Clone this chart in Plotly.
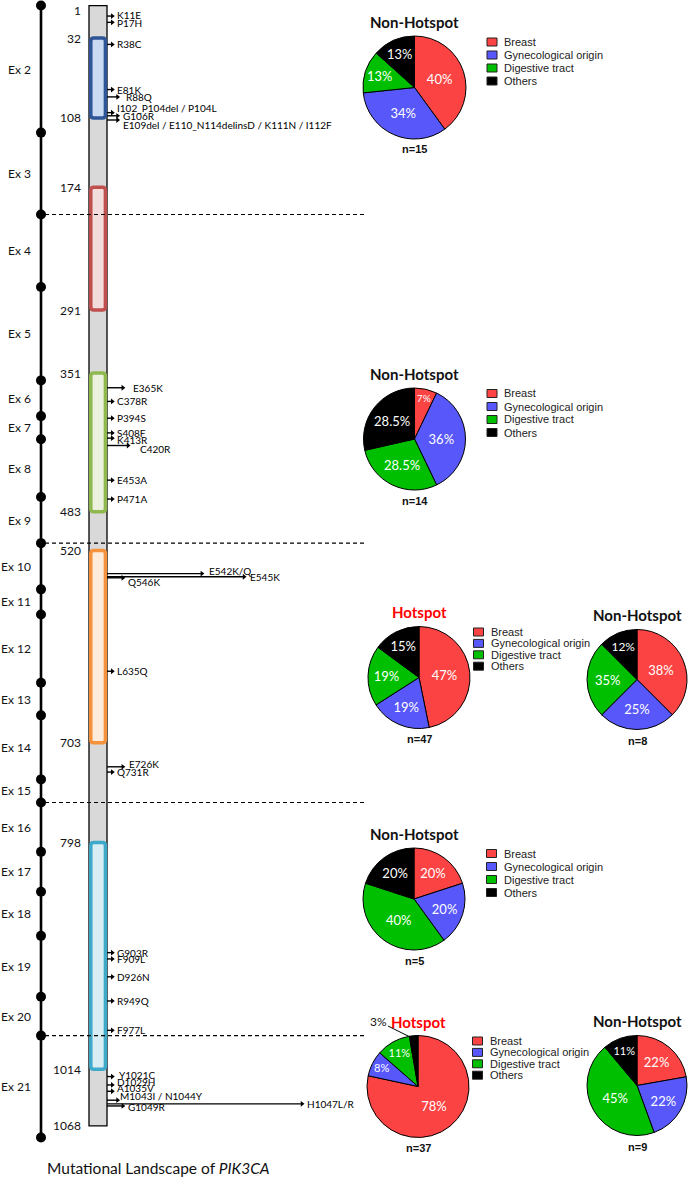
import plotly.graph_objects as go

# ---------------- data ----------------
protein_length = 1068

exon_names = [f"Ex {i}" for i in range(2, 22)]
exon_bounds = [1, 122, 200, 269, 358, 392, 414, 469, 513, 557, 581,
               646, 677, 738, 760, 807, 845, 887, 945, 982, 1079]
group_break_after = ["Ex 3", "Ex 9", "Ex 15", "Ex 20"]

domain_names = ["ABD", "RBD", "C2", "Helical", "Kinase"]
domain_start = [32, 174, 351, 520, 798]
domain_end = [108, 291, 483, 703, 1014]
position_ticks = [1, 32, 108, 174, 291, 351, 483, 520, 703, 798, 1014, 1068]

mut_labels = ["K11E", "P17H", "R38C", "E81K", "R88Q", "I102_P104del / P104L", "G106R",
              "E109del / E110_N114delinsD / K111N / I112F",
              "E365K", "C378R", "P394S", "S408F", "K413R", "C420R", "E453A", "P471A",
              "E542K/Q", "E545K", "Q546K", "L635Q", "E726K", "Q731R",
              "G903R", "F909L", "D926N", "R949Q", "F977L",
              "Y1021C", "D1029H", "A1035V", "M1043I / N1044Y", "H1047L/R", "G1049R"]
mut_pos = [11, 17, 38, 81, 88, 103, 106, 110,
           365, 378, 394, 408, 413, 420, 453, 471,
           542, 545, 546, 635, 726, 731,
           903, 909, 926, 949, 977,
           1021, 1029, 1035, 1043.5, 1047, 1049]
mut_count = [1, 1, 1, 1, 2, 1, 2, 2,
             3, 1, 1, 1, 1, 4, 1, 1,
             18, 26, 3, 1, 3, 1,
             1, 1, 1, 1, 1,
             1, 1, 1, 2, 37, 3]

pie_categories = ["Breast", "Gynecological origin", "Digestive tract", "Others"]
pie_titles = ["Non-Hotspot", "Non-Hotspot", "Hotspot", "Non-Hotspot",
              "Non-Hotspot", "Hotspot", "Non-Hotspot"]
pie_n = [15, 14, 47, 8, 5, 37, 9]
pie_counts = [[6, 5, 2, 2], [1, 5, 4, 4], [22, 9, 9, 7], [3, 2, 2, 1],
              [1, 1, 2, 1], [29, 3, 4, 1], [2, 2, 4, 1]]
pie_pct_text = [["40%", "34%", "13%", "13%"], ["7%", "36%", "28.5%", "28.5%"],
                ["47%", "19%", "19%", "15%"], ["38%", "25%", "35%", "12%"],
                ["20%", "20%", "40%", "20%"], ["78%", "8%", "11%", "3%"],
                ["22%", "22%", "45%", "11%"]]

# ---------------- layout / style ----------------
W, H = 693, 1180
X_PX0, X_SCALE = 107.0, 5.27    # bar right edge (count 0), px per count
Y_PX0, Y_SCALE = 4.5, 1.05      # px offset, px per residue


def cx(px):
    return (px - X_PX0) / X_SCALE


def ry(px):
    return (px - Y_PX0) / Y_SCALE


def fx(px):
    return px / W


def fy(py):
    return 1 - py / H


CAL = "Lato"
ARIAL = "Liberation Sans, Arial"
pie_colors = ["#fb4343", "#5858fa", "#00bf00", "#000000"]
dom_line = ["#2e5597", "#c0504d", "#8fb84f", "#f7923c", "#3fa9c9"]
dom_fill = ["#c9daf2", "#f3dcdc", "#ebf1de", "#fdebdc", "#d9edf5"]

# pie placement: centre x, centre y, radius (px), legend?
pie_geo = [(414.5, 87.5, 51.5, True), (414.5, 439, 51, True), (419, 677.5, 51, True),
           (637, 679.5, 50, False), (414, 899, 51, True), (418, 1086.5, 51, True),
           (637, 1085.5, 50, False)]

label_nudge = {"K11E": (0, -1), "P17H": (0, 0.5), "R88Q": (3, 0),
               "I102_P104del / P104L": (0, -5),
               "E109del / E110_N114delinsD / K111N / I112F": (0, 5),
               "E365K": (5, 0), "K413R": (0, 2), "C420R": (7, 3),
               "E542K/Q": (2, -3), "E545K": (1, 0), "Q546K": (0, 4),
               "E726K": (1, -3), "Y1021C": (2, -2), "D1029H": (0, -3),
               "A1035V": (0, -3), "M1043I / N1044Y": (-3, -4), "G1049R": (0, 1)}

fig = go.Figure()
shapes = []
ann = []

# protein bar
shapes.append(dict(type="rect", xref="x", yref="y", x0=cx(89), x1=cx(107),
                   y0=1, y1=protein_length, fillcolor="#d9d9d9",
                   line=dict(color="black", width=1.3), layer="below"))


def rounded(x0, x1, y0, y1, rx, ryy):
    return (f"M {x0+rx},{y0} L {x1-rx},{y0} Q {x1},{y0} {x1},{y0+ryy} "
            f"L {x1},{y1-ryy} Q {x1},{y1} {x1-rx},{y1} L {x0+rx},{y1} "
            f"Q {x0},{y1} {x0},{y1-ryy} L {x0},{y0+ryy} Q {x0},{y0} {x0+rx},{y0} Z")


for i in range(len(domain_names)):
    shapes.append(dict(type="path", xref="x", yref="y",
                       path=rounded(cx(90.8), cx(105.4), domain_start[i], domain_end[i],
                                    3 / X_SCALE, 3 / Y_SCALE),
                       fillcolor=dom_fill[i], line=dict(color=dom_line[i], width=3.5),
                       layer="below"))

# dashed group separators
for name in group_break_after:
    r = exon_bounds[exon_names.index(name) + 1]
    shapes.append(dict(type="line", xref="x", yref="y", x0=cx(45), x1=cx(367), y0=r, y1=r,
                       line=dict(color="black", width=1.2, dash="4px,3px"), layer="above"))

# exon line with boundary dots
fig.add_trace(go.Scatter(x=[cx(41)] * len(exon_bounds), y=exon_bounds, mode="lines+markers",
                         line=dict(color="black", width=2.6),
                         marker=dict(color="black", size=10), hoverinfo="skip",
                         showlegend=False))
for i, name in enumerate(exon_names):
    mid = (exon_bounds[i] + exon_bounds[i + 1]) / 2
    ann.append(dict(x=cx(33), y=mid, xref="x", yref="y", text=name, showarrow=False,
                    xanchor="right", yanchor="middle", font=dict(family=CAL, size=12, color="#111")))

# position tick labels
for p in position_ticks:
    ann.append(dict(x=cx(83), y=p, xref="x", yref="y", text=str(p), showarrow=False,
                    xanchor="right", yanchor="middle", yshift=-5 if p == 1 else 0,
                    font=dict(family=CAL, size=12, color="#111")))

# lollipops
lx, ly = [], []
for p, c in zip(mut_pos, mut_count):
    lx += [0, c, None]
    ly += [p, p, None]
fig.add_trace(go.Scatter(x=lx, y=ly, mode="lines", line=dict(color="black", width=1.4),
                         hoverinfo="skip", showlegend=False))
fig.add_trace(go.Scatter(x=mut_count, y=mut_pos, mode="markers",
                         marker=dict(symbol="triangle-right", size=5, color="black"),
                         hoverinfo="skip", showlegend=False))
for lab, p, c in zip(mut_labels, mut_pos, mut_count):
    dx, dy = label_nudge.get(lab, (0, 0))
    ann.append(dict(x=c, y=p, xref="x", yref="y", text=lab, showarrow=False,
                    xanchor="left", yanchor="middle", xshift=3 + dx, yshift=-dy,
                    font=dict(family=CAL, size=10, color="#000")))

# pies
for k, (pcx, pcy, pr, has_leg) in enumerate(pie_geo):
    tp = ["inside"] * 4
    txt = list(pie_pct_text[k])
    if k == 5:
        tp[3] = "none"
    fig.add_trace(go.Pie(values=pie_counts[k], labels=pie_categories, text=txt,
                         textinfo="text", textposition=tp, sort=False,
                         direction="clockwise", rotation=0,
                         insidetextorientation="horizontal",
                         marker=dict(colors=pie_colors, line=dict(color="black", width=1)),
                         textfont=dict(family=CAL, size=13, color="white"),
                         domain=dict(x=[fx(pcx - pr), fx(pcx + pr)],
                                     y=[fy(pcy + pr), fy(pcy - pr)]),
                         showlegend=False, hoverinfo="label+percent"))
    hot = pie_titles[k] == "Hotspot"
    ann.append(dict(x=fx(pcx), y=fy(pcy - 65), xref="paper", yref="paper",
                    text=f"<b>{pie_titles[k]}</b>", showarrow=False,
                    xanchor="center", yanchor="middle",
                    font=dict(family=CAL, size=15, color="#ff0000" if hot else "#111")))
    ann.append(dict(x=fx(pcx), y=fy(pcy + 61.5), xref="paper", yref="paper",
                    text=f"<b>n={pie_n[k]}</b>", showarrow=False,
                    xanchor="center", yanchor="middle",
                    font=dict(family=ARIAL, size=11, color="#111")))
    if has_leg:
        dxl, step = (54.5, 11.4) if hot else (72.5, 13)
        top = pcy - 45.5
        for j, cat in enumerate(pie_categories):
            yy = top + j * step
            shapes.append(dict(type="rect", xref="paper", yref="paper",
                               x0=fx(pcx + dxl), x1=fx(pcx + dxl + 10),
                               y0=fy(yy + 4), y1=fy(yy - 4), fillcolor=pie_colors[j],
                               line=dict(color="#222", width=1)))
            ann.append(dict(x=fx(pcx + dxl + 15), y=fy(yy), xref="paper", yref="paper",
                            text=cat, showarrow=False, xanchor="left", yanchor="middle",
                            font=dict(family=ARIAL, size=11, color="#222")))

# small-slice label with leader line (hotspot, exon 21)
ann.append(dict(x=fx(412), y=fy(1038), xref="paper", yref="paper", text=pie_pct_text[5][3],
                showarrow=True, arrowhead=0, arrowwidth=1, arrowcolor="black",
                ax=-34, ay=-17, font=dict(family=CAL, size=12, color="#111")))

# caption
ann.append(dict(x=fx(158), y=fy(1168), xref="paper", yref="paper",
                text="Mutational Landscape of <i>PIK3CA</i>", showarrow=False,
                xanchor="center", yanchor="middle",
                font=dict(family=CAL, size=15.5, color="#111")))

fig.update_layout(
    width=W, height=H, margin=dict(l=0, r=0, t=0, b=0),
    paper_bgcolor="white", plot_bgcolor="white",
    xaxis=dict(range=[cx(0), cx(W)], visible=False, showgrid=False, zeroline=False,
               domain=[0, 1], fixedrange=True),
    yaxis=dict(range=[ry(H), ry(0)], visible=False, showgrid=False, zeroline=False,
               domain=[0, 1], fixedrange=True),
    shapes=shapes, annotations=ann, showlegend=False,
)

fig.write_html("out.html", config={"displayModeBar": False},
               post_script="document.body.style.margin='0';document.body.style.overflow='hidden';")
